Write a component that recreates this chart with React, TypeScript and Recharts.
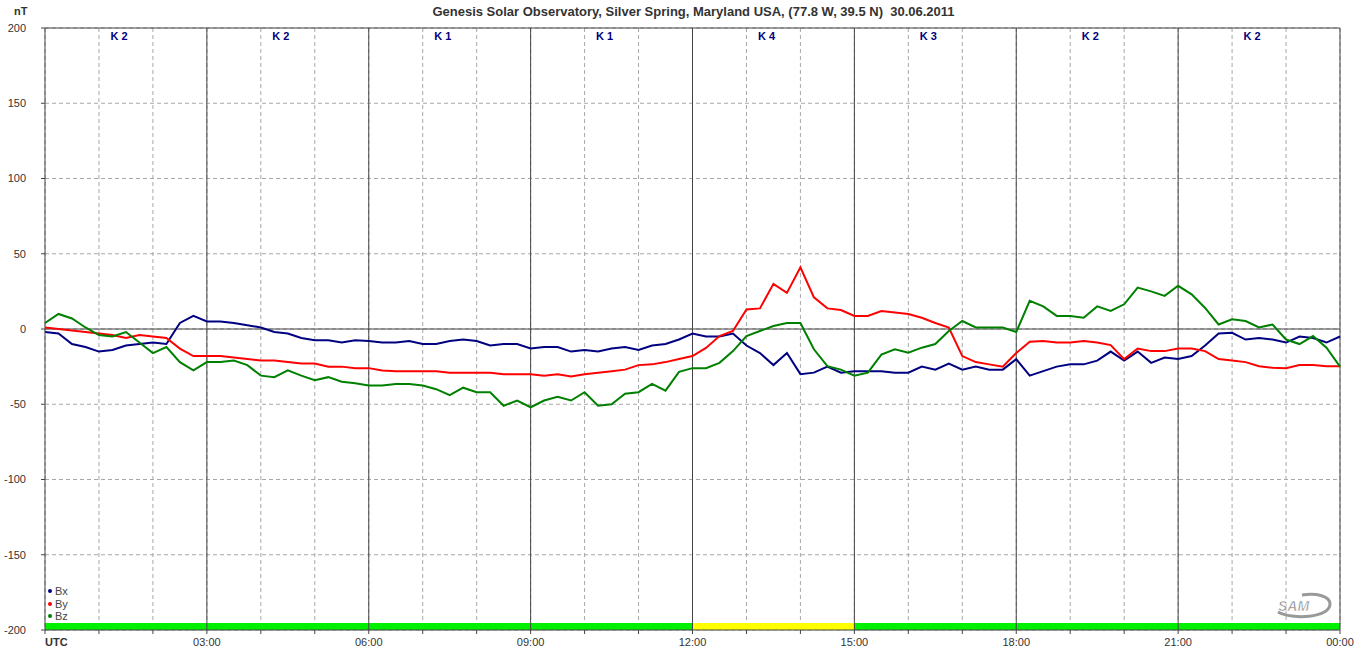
import React from "react";
import {
  LineChart,
  Line,
  XAxis,
  YAxis,
  CartesianGrid,
  ReferenceLine,
  ReferenceArea,
} from "recharts";

// time in hours UTC, 15 min steps
const hours = [
  0, 0.25, 0.5, 0.75, 1, 1.25, 1.5, 1.75, 2, 2.25, 2.5, 2.75,
  3, 3.25, 3.5, 3.75, 4, 4.25, 4.5, 4.75, 5, 5.25, 5.5, 5.75,
  6, 6.25, 6.5, 6.75, 7, 7.25, 7.5, 7.75, 8, 8.25, 8.5, 8.75,
  9, 9.25, 9.5, 9.75, 10, 10.25, 10.5, 10.75, 11, 11.25, 11.5, 11.75,
  12, 12.25, 12.5, 12.75, 13, 13.25, 13.5, 13.75, 14, 14.25, 14.5, 14.75,
  15, 15.25, 15.5, 15.75, 16, 16.25, 16.5, 16.75, 17, 17.25, 17.5, 17.75,
  18, 18.25, 18.5, 18.75, 19, 19.25, 19.5, 19.75, 20, 20.25, 20.5, 20.75,
  21, 21.25, 21.5, 21.75, 22, 22.25, 22.5, 22.75, 23, 23.25, 23.5, 23.75,
  24,
];

const bx = [
  -2, -3, -10, -12, -15, -14, -11, -10, -9, -10, 4, 8.7,
  5, 5, 4, 2.5, 1, -2, -3, -6, -7.5, -7.5, -9, -7.5,
  -8, -9, -9, -8, -10, -10, -8, -7, -8, -11, -10, -10,
  -13, -12, -12, -15, -14, -15, -13, -12, -14, -11, -10, -7,
  -3, -5, -5, -3, -11, -16, -24, -16, -30, -29, -25, -29,
  -28, -28, -28, -29, -29, -25, -27, -23, -27, -25, -27, -27,
  -20, -31, -28, -25, -23.5, -23.5, -21, -15, -21, -15, -22.5, -19,
  -20, -18, -11, -3, -2.5, -7, -6, -7, -9, -5, -6, -9,
  -5,
];

const by = [
  1, 0, -1, -2, -3, -4, -6, -4, -5, -6, -13, -18,
  -18, -18, -19, -20, -21, -21, -22, -23, -23, -25, -25, -26,
  -26, -27.5, -28, -28, -28, -28, -29, -29, -29, -29, -30, -30,
  -30, -31, -30, -31.5, -30, -29, -28, -27, -24, -23.5, -22, -20,
  -18, -12.6, -4.7, -1.3, 13, 13.7, 30, 24, 41, 21, 13.7, 12.6,
  8.7, 8.7, 12, 11, 10, 7.5, 4, 1, -18, -22, -23.5, -25,
  -16, -8.4, -8, -9, -9, -8, -9, -10.7, -20, -13, -14.7, -14.7,
  -13, -13, -14.7, -20, -21, -22, -24.7, -25.8, -26, -24, -24, -24.7,
  -24.7,
];

const bz = [
  4, 10, 7, 1, -4, -5, -2, -9, -16, -12, -22, -27.5,
  -22, -22, -21, -24, -31, -32, -27.5, -31, -34, -32, -35, -36,
  -37.5, -37.5, -36.5, -36.5, -37.5, -40, -44, -39, -42, -42, -51, -47.5,
  -52, -47.5, -45, -47.5, -42, -51, -50, -43, -42, -36.5, -41, -28.5,
  -26, -26, -22.5, -14.7, -4.7, -1.3, 2, 4, 4, -13.5, -24.7, -27,
  -31, -29, -17, -13.5, -15.8, -12.4, -10, -1.3, 5.3, 1, 1, 1,
  -2, 18.7, 15, 8.7, 8.7, 7.5, 15, 12, 16.4, 27.5, 25, 22,
  28.7, 23, 14, 3, 6.4, 5.3, 1, 3, -7, -10, -4.7, -12.4,
  -25,
];

// K index per 3 hour block
const kValues = [2, 2, 1, 1, 4, 3, 2, 2];

const hourTicks = [0, 1, 2, 3, 4, 5, 6, 7, 8, 9, 10, 11, 12, 13, 14, 15, 16, 17, 18, 19, 20, 21, 22, 23, 24];
const mainTicks = [3, 6, 9, 12, 15, 18, 21];
const yTicks = [-200, -150, -100, -50, 0, 50, 100, 150, 200];

const series = [
  { key: "bx", name: "Bx", color: "#000080" },
  { key: "by", name: "By", color: "#ff0000" },
  { key: "bz", name: "Bz", color: "#008000" },
];

const FONT = "Arial, 'Liberation Sans', sans-serif";
const AXIS = "#444";

function kColor(k: number) {
  if (k >= 5) return "#ff0000";
  if (k === 4) return "#ffff00";
  return "#00f000";
}

function TimeTick(props: any) {
  const { x, y, payload } = props;
  const v = payload.value;
  if (v % 3 !== 0) return <g />;
  if (v === 0) {
    return (
      <text x={x} y={y + 10} textAnchor="start" fontSize={11} fontWeight="bold" fill="#333" fontFamily={FONT}>
        UTC
      </text>
    );
  }
  const hh = String(v % 24).padStart(2, "0");
  return (
    <text x={x} y={y + 10} textAnchor="middle" fontSize={11} fill="#333" fontFamily={FONT}>
      {hh}:00
    </text>
  );
}

export default function App() {
  const data = hours.map((h, i) => ({ h, bx: bx[i], by: by[i], bz: bz[i] }));

  return (
    <div style={{ position: "absolute", left: 0, top: 0, width: 1360, height: 657, background: "#fff", fontFamily: FONT }}>
      <div
        style={{
          position: "absolute",
          left: 0,
          width: 1387,
          top: 4,
          textAlign: "center",
          fontSize: 13,
          fontWeight: "bold",
          color: "#333",
          whiteSpace: "pre",
        }}
      >
        {"Genesis Solar Observatory, Silver Spring, Maryland USA, (77.8 W, 39.5 N)  30.06.2011"}
      </div>
      <div style={{ position: "absolute", left: 14, top: 5, fontSize: 11, fontWeight: "bold", color: "#333" }}>nT</div>

      <LineChart width={1360} height={657} data={data} margin={{ top: 28, right: 20, bottom: 0, left: 0 }}>
        <CartesianGrid stroke="#a8a8a8" strokeDasharray="4 3" />
        <XAxis
          dataKey="h"
          type="number"
          domain={[0, 24]}
          ticks={hourTicks}
          interval={0}
          height={27}
          tickSize={4}
          tick={<TimeTick />}
          axisLine={{ stroke: AXIS }}
          tickLine={{ stroke: AXIS }}
        />
        <YAxis
          type="number"
          domain={[-200, 200]}
          ticks={yTicks}
          interval={0}
          width={45}
          tickSize={4}
          tickMargin={15}
          tick={{ fontSize: 11, fill: "#333", fontFamily: FONT }}
          axisLine={{ stroke: AXIS }}
          tickLine={{ stroke: AXIS }}
        />
        {kValues.map((k, i) => (
          <ReferenceArea
            key={"kbar" + i}
            x1={i * 3}
            x2={i * 3 + 3}
            y1={-200}
            y2={-195.3}
            fill={kColor(k)}
            fillOpacity={1}
            stroke="none"
          />
        ))}
        {kValues.map((k, i) => (
          <ReferenceArea
            key={"klab" + i}
            x1={i * 3}
            x2={i * 3 + 3}
            y1={-195}
            y2={200}
            fill="none"
            fillOpacity={0}
            stroke="none"
            label={{
              value: `K ${k}`,
              position: "insideTop",
              offset: 4,
              dx: -7,
              fill: "#000080",
              fontSize: 11,
              fontWeight: "bold",
              fontFamily: FONT,
            }}
          />
        ))}
        {mainTicks.map((t) => (
          <ReferenceLine key={"v" + t} x={t} stroke={AXIS} strokeWidth={1} />
        ))}
        <ReferenceLine x={24} stroke={AXIS} />
        <ReferenceLine y={200} stroke={AXIS} />
        <ReferenceLine y={0} stroke={AXIS} />
        {series.map((s) => (
          <Line
            key={s.key}
            type="linear"
            dataKey={s.key}
            name={s.name}
            stroke={s.color}
            strokeWidth={2}
            dot={false}
            isAnimationActive={false}
          />
        ))}
      </LineChart>

      <div style={{ position: "absolute", left: 48, top: 585 }}>
        {series.map((s) => (
          <div key={s.key} style={{ display: "flex", alignItems: "center", height: 12.5, fontSize: 11, color: "#444" }}>
            <span style={{ width: 4, height: 4, borderRadius: 2, background: s.color, marginRight: 3 }} />
            {s.name}
          </div>
        ))}
      </div>

      <svg style={{ position: "absolute", left: 1272, top: 592 }} width={64} height={28}>
        <path d="M6 20 C 20 28, 58 26, 58 12 C 58 4, 45 1, 30 3" fill="none" stroke="#999" strokeWidth={3} />
        <text x={6} y={19} fontSize={14} fontStyle="italic" fontWeight="bold" fill="#888" stroke="#fff" strokeWidth={0.6} fontFamily={FONT}>
          SAM
        </text>
      </svg>
    </div>
  );
}
